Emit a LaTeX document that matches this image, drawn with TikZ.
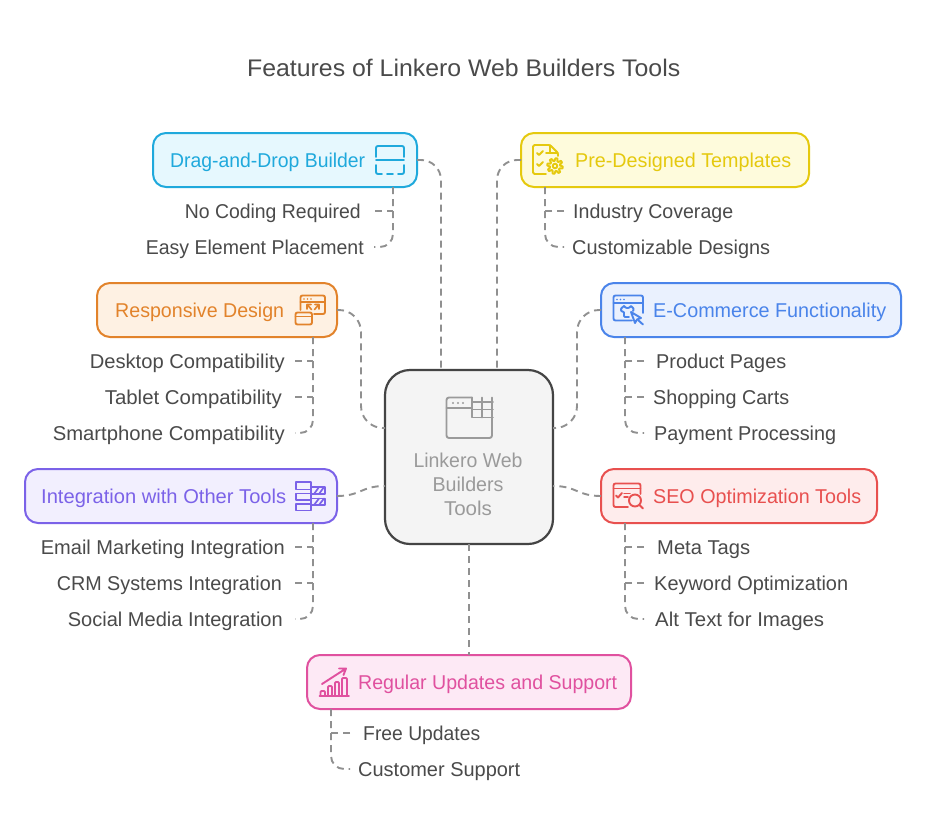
\documentclass[tikz,border=0pt]{standalone}
\usepackage{fontspec}
\usepackage{graphicx}
\setmainfont{Liberation Sans}
\usetikzlibrary{calc}
\definecolor{txt}{HTML}{4A4A4A}
\definecolor{dashc}{HTML}{909090}
\definecolor{cdrag}{HTML}{1FA9DC}\definecolor{fdrag}{HTML}{E6F8FE}
\definecolor{cpre}{HTML}{E5C90E}\definecolor{fpre}{HTML}{FEFBDC}
\definecolor{cres}{HTML}{E2832B}\definecolor{fres}{HTML}{FEF1E3}
\definecolor{ceco}{HTML}{4A84EA}\definecolor{feco}{HTML}{EAF1FE}
\definecolor{cint}{HTML}{7B62E8}\definecolor{fint}{HTML}{F2EFFE}
\definecolor{cseo}{HTML}{E8504F}\definecolor{fseo}{HTML}{FEECEC}
\definecolor{creg}{HTML}{E0519F}\definecolor{freg}{HTML}{FDE9F5}
\definecolor{chub}{HTML}{444444}\definecolor{fhub}{HTML}{F4F4F4}
\definecolor{thub}{HTML}{9A9A9A}
\newcommand{\fitw}[2]{\resizebox{#1pt}{\height}{#2}}
\tikzset{
  conn/.style={draw=dashc,line width=1.9pt,dash pattern=on 7pt off 5pt},
  card/.style={draw=#1,rounded corners=13pt,line width=2pt,inner sep=0pt,outer sep=0pt,anchor=north west},
  ico/.style={draw=#1,line width=1.9pt,line join=round,line cap=round},
  lab/.style={inner sep=0pt,anchor=base west,text=#1,font=\fontsize{20}{24}\selectfont},
  leafR/.style={inner sep=0pt,anchor=base west,text=txt,text height=14pt,text depth=0pt,font=\fontsize{20}{24}\selectfont},
  leafL/.style={inner sep=0pt,anchor=base east,text=txt,text height=14pt,text depth=0pt,font=\fontsize{20}{24}\selectfont}
}
% name, conn x, text left, text right, y centre, text
\newcommand{\lleaf}[6]{\pgfmathsetmacro{\tw}{#4-#3}\pgfmathsetmacro{\gp}{#2-#4}\node[leafL] (#1) at (#2,#5+7) {\fitw{\tw}{#6}\hspace*{\gp pt}};}
\newcommand{\rleaf}[6]{\pgfmathsetmacro{\tw}{#4-#3}\pgfmathsetmacro{\gp}{#3-#2}\node[leafR] (#1) at (#2,#5+7) {\hspace*{\gp pt}\fitw{\tw}{#6}};}
% name, x1, x2, y1, y2, colour, fill
\newcommand{\boxn}[7]{\pgfmathsetmacro{\bw}{#3-#2}\pgfmathsetmacro{\bh}{#5-#4}\node[card=#6,fill=#7,minimum width=\bw pt,minimum height=\bh pt] (#1) at (#2,#4) {};}
\newcommand{\blab}[6]{\pgfmathsetmacro{\tw}{#3-#2}\node[lab=#5] (#1) at (#2,#4+7) {\fitw{\tw}{#6}};}
\begin{document}
\begin{tikzpicture}[x=1pt,y=-1pt]
\useasboundingbox (0,0) rectangle (926,830);
\fill[white] (0,0) rectangle (926,830);
\node[inner sep=0pt,anchor=base west,text=txt,font=\fontsize{24}{28}\selectfont] (title) at (247,76) {\fitw{433}{Features of Linkero Web Builders Tools}};

% hub and cards
\node[draw=chub,fill=fhub,line width=2.2pt,rounded corners=25pt,minimum width=168pt,minimum height=174pt,inner sep=0pt,outer sep=0pt,anchor=north west] (hub) at (385,370) {};
\boxn{drag}{153}{417}{133}{187}{cdrag}{fdrag}
\boxn{pre}{521}{809}{133}{187}{cpre}{fpre}
\boxn{res}{97}{337}{283}{337}{cres}{fres}
\boxn{eco}{601}{901}{283}{337}{ceco}{feco}
\boxn{int}{25}{337}{469}{523}{cint}{fint}
\boxn{seo}{601}{877}{469}{523}{cseo}{fseo}
\boxn{reg}{307}{631}{655}{709}{creg}{freg}

% card labels
\blab{dragL}{170}{365}{160}{cdrag}{Drag-and-Drop Builder}
\blab{preL}{575}{791}{160}{cpre}{Pre-Designed Templates}
\blab{resL}{115}{284}{310}{cres}{Responsive Design}
\blab{ecoL}{653}{886}{310}{ceco}{E-Commerce Functionality}
\blab{intL}{41}{286}{496}{cint}{Integration with Other Tools}
\blab{seoL}{653}{861}{496}{cseo}{SEO Optimization Tools}
\blab{regL}{358}{617}{682}{creg}{Regular Updates and Support}

% hub text
\node[inner sep=0pt,anchor=base,text=thub,font=\fontsize{20}{24}\selectfont] (hubA) at (468,467) {\fitw{109}{Linkero Web}};
\node[inner sep=0pt,anchor=base,text=thub,font=\fontsize{20}{24}\selectfont] (hubB) at (468,491) {\fitw{71}{Builders}};
\node[inner sep=0pt,anchor=base,text=thub,font=\fontsize{20}{24}\selectfont] (hubC) at (468,515) {\fitw{48}{Tools}};

% leaves
\lleaf{a1}{375}{185}{361}{211}{No Coding Required}
\lleaf{a2}{374}{146}{364}{247}{Easy Element Placement}
\rleaf{b1}{564}{573}{733}{211}{Industry Coverage}
\rleaf{b2}{564}{572}{770}{247}{Customizable Designs}
\lleaf{c1}{295}{90}{285}{361}{Desktop Compatibility}
\lleaf{c2}{295}{105}{282}{397}{Tablet Compatibility}
\lleaf{c3}{295}{53}{285}{433}{Smartphone Compatibility}
\rleaf{d1}{644}{656}{786}{361}{Product Pages}
\rleaf{d2}{644}{653}{789}{397}{Shopping Carts}
\rleaf{d3}{644}{654}{836}{433}{Payment Processing}
\lleaf{e1}{295}{41}{285}{547}{Email Marketing Integration}
\lleaf{e2}{295}{57}{282}{583}{CRM Systems Integration}
\lleaf{e3}{295}{68}{283}{619}{Social Media Integration}
\rleaf{f1}{644}{657}{750}{547}{Meta Tags}
\rleaf{f2}{644}{654}{848}{583}{Keyword Optimization}
\rleaf{f3}{644}{655}{824}{619}{Alt Text for Images}
\rleaf{g1}{350}{363}{480}{733}{Free Updates}
\rleaf{g2}{350}{358}{520}{769}{Customer Support}

% hub connection points and trunks
\coordinate (hN1) at (441,370);
\coordinate (hN2) at (497,370);
\coordinate (hW1) at (385,428);
\coordinate (hE1) at (553,428);
\coordinate (hW2) at (385,486);
\coordinate (hE2) at (553,486);
\coordinate (tA) at (393,0);
\coordinate (tB) at (545,0);
\coordinate (tC) at (313,0);
\coordinate (tD) at (625,0);
\coordinate (tG) at (331,0);
\coordinate (vW) at (361,0);
\coordinate (vE) at (577,0);

% hub connectors
\draw[conn,rounded corners=20pt] (drag.east) -| (hN1);
\draw[conn,rounded corners=20pt] (pre.west) -| (hN2);
\draw[conn,rounded corners=22pt] (res.east) -| (vW |- hW1) -- (hW1);
\draw[conn,rounded corners=22pt] (eco.west) -| (vE |- hE1) -- (hE1);
\draw[conn] (int.east) .. controls (361,496) and (361,486) .. (hW2);
\draw[conn] (seo.west) .. controls (577,496) and (577,486) .. (hE2);
\draw[conn] (hub.south) -- (reg.north -| hub.south);

% leaf connectors: trunks, then stubs drawn from the leaf inward
\draw[conn,rounded corners=13pt] (tA |- drag.south) |- (a2.east);
\draw[conn] (a1.east) -- (tA |- a1.east);
\draw[conn,rounded corners=13pt] (tB |- pre.south) |- (b2.west);
\draw[conn] (b1.west) -- (tB |- b1.west);
\draw[conn,rounded corners=13pt] (tC |- res.south) |- (c3.east);
\draw[conn] (c1.east) -- (tC |- c1.east);
\draw[conn] (c2.east) -- (tC |- c2.east);
\draw[conn,rounded corners=13pt] (tD |- eco.south) |- (d3.west);
\draw[conn] (d1.west) -- (tD |- d1.west);
\draw[conn] (d2.west) -- (tD |- d2.west);
\draw[conn,rounded corners=13pt] (tC |- int.south) |- (e3.east);
\draw[conn] (e1.east) -- (tC |- e1.east);
\draw[conn] (e2.east) -- (tC |- e2.east);
\draw[conn,rounded corners=13pt] (tD |- seo.south) |- (f3.west);
\draw[conn] (f1.west) -- (tD |- f1.west);
\draw[conn] (f2.west) -- (tD |- f2.west);
\draw[conn,rounded corners=13pt] (tG |- reg.south) |- (g2.west);
\draw[conn] (g1.west) -- (tG |- g1.west);

% icon: drag
\draw[ico=cdrag,rounded corners=2pt] (376,157) |- (404,146) -- (404,157);
\draw[ico=cdrag] (376,160) -- (404,160);
\draw[ico=cdrag,rounded corners=2pt] (376,165) -- (376,174) -- (382,174);
\draw[ico=cdrag] (387,174) -- (393,174);
\draw[ico=cdrag,rounded corners=2pt] (398,174) -- (404,174) -- (404,165);
% icon: pre
\draw[ico=cpre,rounded corners=1.5pt] (546,174) -- (533,174) -- (533,145) -- (550,145) -- (558,153) -- (558,156);
\draw[ico=cpre] (550,145) -- (550,153) -- (558,153);
\draw[ico=cpre] (537,153) -- (539,155) -- (543,151) (546,153) -- (550,153);
\draw[ico=cpre] (537,164) -- (539,166) -- (543,162);
\draw[ico=cpre] plot[samples=97,domain=0:360] ({555+(6.5+1.3*sign(sin(8*\x)))*cos(\x)},{166+(6.5+1.3*sign(sin(8*\x)))*sin(\x)}) -- cycle;
\draw[ico=cpre] (555,166) circle (2.3);
% icon: res
\draw[ico=cres,rounded corners=2pt] (300.5,310) |- (325,295.5) |- (314,314);
\draw[ico=cres] (300.5,302) -- (325,302);
\fill[cres] (304,299) circle (.9) (307.5,299) circle (.9) (311,299) circle (.9);
\draw[ico=cres,line width=1.6pt] (311,304.5) -- (307,304.5) -- (307,309) (307,304.5) -- (311.5,309.5);
\draw[ico=cres,line width=1.6pt] (315,304.5) -- (319,304.5) -- (319,309) (319,304.5) -- (314.5,309.5);
\draw[ico=cres,fill=fres,rounded corners=2pt] (295.5,312.5) rectangle (312,324.5);
\draw[ico=cres] (295.5,316.5) -- (312,316.5);
% icon: eco
\draw[ico=ceco,rounded corners=2pt] (632,320.5) -| (613.5,295.5) -| (643,313);
\draw[ico=ceco] (613.5,303) -- (643,303);
\fill[ceco] (617,299.5) circle (.9) (620.5,299.5) circle (.9) (624,299.5) circle (.9);
\draw[ico=ceco,rounded corners=1pt] (624,306) -- (620.5,309) -- (622,312) -- (624,311.5) -- (624,317) -- (629,317);
\draw[ico=ceco,rounded corners=1pt] (631,306) -- (634,309) -- (633,311) (624,306) -- (626,308) -- (629,308) -- (631,306);
\draw[ico=ceco,fill=feco] (631,312) -- (641,318) -- (637,319.5) -- (635,323) -- cycle;
\draw[ico=ceco] (638,320) -- (643,324.5);
% icon: int
\draw[ico=cint] (296,482) rectangle (311,489.5);
\draw[ico=cint] (296,493.5) rectangle (311,500);
\draw[ico=cint] (296,504) rectangle (311,510.5);
\draw[ico=cint] (311,487) rectangle (325,494);
\draw[ico=cint] (311,498.5) rectangle (325,505);
\draw[ico=cint,line width=1.7pt] (314,494) -- (319,487) (319,494) -- (324,487) (314,505) -- (319,498.5) (319,505) -- (324,498.5);
% icon: seo
\draw[ico=cseo,rounded corners=2pt] (628,507) -| (613.5,483.5) -| (640.5,494);
\draw[ico=cseo] (613.5,488.5) -- (640.5,488.5);
\draw[ico=cseo] (616,495.5) -- (618,497.5) -- (622,493);
\draw[ico=cseo,line width=1.5pt] (624,493.5) -- (630,493.5) (624,497) -- (628,497);
\draw[ico=cseo,fill=fseo] (635,500.5) circle (6);
\draw[ico=cseo] (639.5,505) -- (643,508.5);
% icon: reg
\draw[ico=creg] (319.5,696) -- (349,696);
\draw[ico=creg,rounded corners=1pt] (320.5,696) -- (320.5,691) -- (325,691) -- (325,696);
\draw[ico=creg,rounded corners=1pt] (328,696) -- (328,686) -- (332,686) -- (332,696);
\draw[ico=creg,rounded corners=1pt] (335,696) -- (335,682) -- (339,682) -- (339,696);
\draw[ico=creg,rounded corners=1pt] (342,696) -- (342,678) -- (347,678) -- (347,696);
\draw[ico=creg] (322,684) -- (346,668.5) (339,668.5) -- (346,668.5) -- (343.5,675);
% icon: hub
\draw[ico=thub,rounded corners=2.5pt] (472,397.5) -- (446.5,397.5) -- (446.5,438) -- (492,438) -- (492,417.5);
\draw[ico=thub] (472,397.5) -- (472,417.5) -- (493,417.5) (446.5,408) -- (472,408);
\draw[ico=thub] (482,397.5) -- (482,417.5) (492,397.5) -- (492,417.5) (472,402) -- (493,402) (472,409.5) -- (493,409.5);
\fill[thub] (453,403) circle (1.1) (458,403) circle (1.1) (463,403) circle (1.1);
\end{tikzpicture}
\end{document}
